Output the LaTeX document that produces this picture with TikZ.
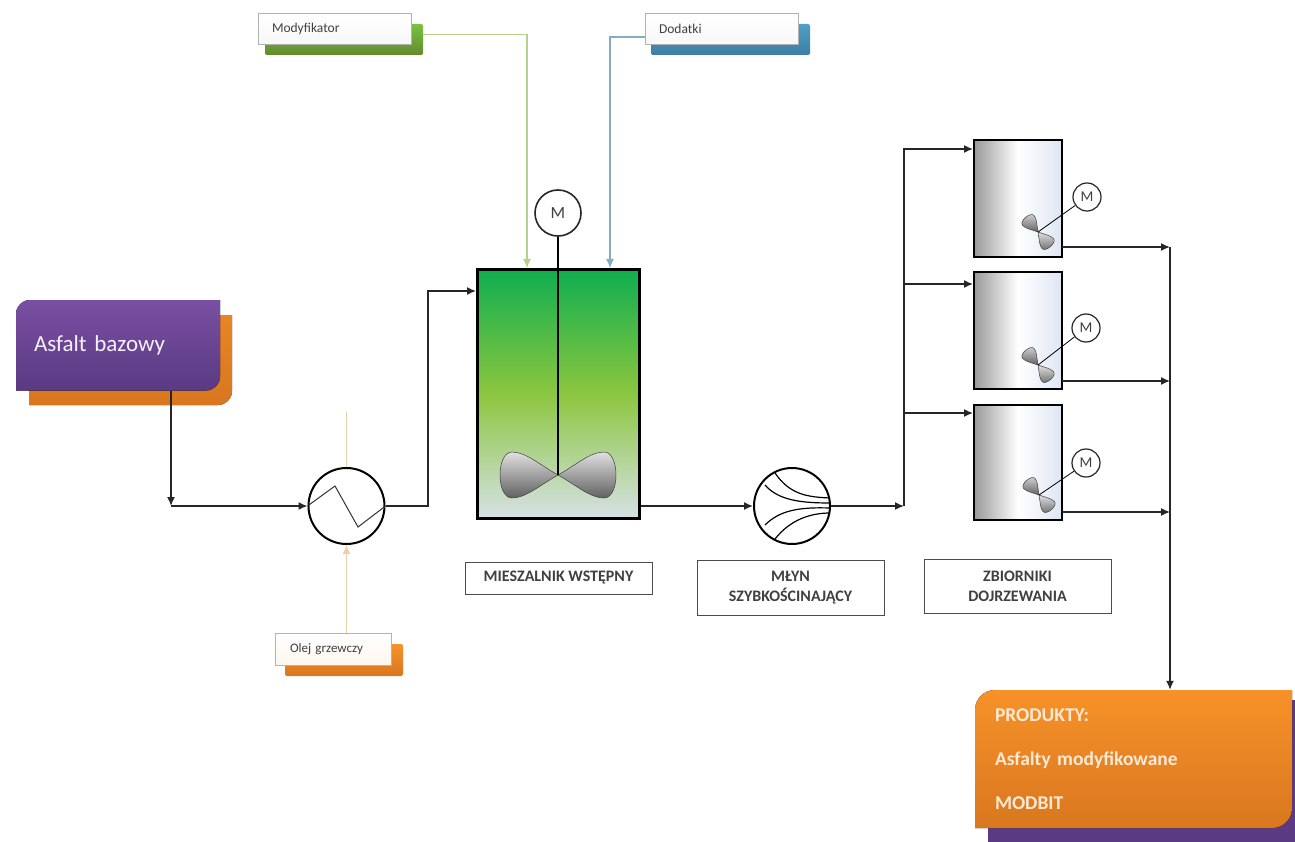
\documentclass[tikz,border=0pt]{standalone}
\usepackage{fontspec}
\setmainfont{Carlito}
\usetikzlibrary{arrows.meta}
\definecolor{zielen}{HTML}{0FAE4F}
\definecolor{trawa}{HTML}{8CC63F}
\definecolor{mgla}{HTML}{D6E1E6}
\definecolor{fiolet}{HTML}{7A4FA3}
\definecolor{sliwka}{HTML}{5A3A82}
\definecolor{pomarancz}{HTML}{F79229}
\definecolor{rdza}{HTML}{D9771F}
\definecolor{linia1}{HTML}{B4D28C}
\definecolor{linia2}{HTML}{7FAFC0}
\definecolor{linia3}{HTML}{EBCFA8}
\definecolor{stal}{HTML}{DFE6F2}
\definecolor{morze}{HTML}{4F9FC6}
\definecolor{morze2}{HTML}{3C7FA3}

\begin{document}
\begin{tikzpicture}[
  x=1pt, y=-1pt,
  >={Latex[length=9pt, width=8pt]},
  rura/.style = {line width=1.5pt, draw=black!85},
  cienka/.style = {line width=1.2pt},
  etykieta/.style = {draw=black!70, line width=.9pt, align=center, font=\fontsize{16}{20}\selectfont\bfseries, text=black!75, inner sep=0pt},
  tabliczka/.style = {draw=black!30, line width=.8pt, top color=white, bottom color=black!3, minimum height=31pt, inner sep=0pt, font=\fontsize{13.5}{15}\selectfont, text=black!75, align=left},
  tlo/.style = {minimum height=31pt, inner sep=0pt, rounded corners=2pt},
  silnik/.style = {circle, draw=black!85, fill=white, line width=1.2pt, inner sep=0pt, font=\fontsize{15}{17}\selectfont, text=black!75},
  aparat/.style = {circle, draw=black, fill=white, line width=2pt, minimum size=76pt, inner sep=0pt},
  zbiornik/.style = {draw=black, line width=2.6pt, minimum width=88pt, inner sep=0pt, left color=black!40, right color=stal, middle color=white},
  smiglo/.pic = {
    \foreach \kier in {1,-1} {
      \draw[xscale=\kier, draw=black!75, line width=.5pt, top color=black!12, bottom color=black!62]
        (0,0) .. controls (18,-10) and (32,-23) .. (46,-23)
        .. controls (62,-23) and (62,23) .. (46,23)
        .. controls (32,23) and (18,10) .. (0,0);
    }
  }
]
  \useasboundingbox (0,0) rectangle (1295,842);

  % wejscia
  \node[tlo, minimum width=158pt, top color=trawa!85!zielen, bottom color=trawa!70!black] (modyfikatortlo) at (344,39.5) {};
  \node[tabliczka, minimum width=153pt, text width=125pt] (modyfikator) at (334.5,29) {Modyfikator};
  \node[tlo, minimum width=159pt, top color=morze, bottom color=morze2] (dodatkitlo) at (730.5,39.5) {};
  \node[tabliczka, minimum width=153pt, text width=125pt] (dodatki) at (721.5,29) {Dodatki};

  \fill[top color=rdza!50!pomarancz, bottom color=rdza] (232,315) [rounded corners=14pt] -- (232,405) [sharp corners] -- (29,405) -- (29,315) -- cycle;
  \fill[top color=fiolet, bottom color=sliwka] (220,300) [rounded corners=14pt] -- (16,300) [sharp corners] -- (16,390.5) [rounded corners=14pt] -- (220,390.5) [sharp corners] -- cycle;
  \node[minimum width=204pt, minimum height=90.5pt, inner sep=0pt, text width=168pt, text=white!92!fiolet, font=\fontsize{23}{26}\selectfont] (asfalt) at (118,345.5) {Asfalt bazowy};

  \node[tlo, minimum width=118pt, minimum height=32pt, top color=pomarancz, bottom color=rdza] (olejtlo) at (344,660) {};
  \node[tabliczka, minimum width=116pt, minimum height=32pt, text width=86pt, top color=white, bottom color=pomarancz!8, font=\fontsize{13}{15}\selectfont] (olej) at (333,649) {Olej grzewczy};

  % aparaty
  \node[aparat] (wymiennik) at (346.5,506) {};
  \draw[line width=1pt, draw=black!80] (wymiennik.west) -- (335,486) -- (358,527) -- (wymiennik.east);

  \node[draw=black, line width=3pt, minimum width=162pt, minimum height=249pt, inner sep=0pt, top color=zielen, bottom color=mgla, middle color=trawa] (mieszalnik) at (558.5,394) {};
  \coordinate (piasta) at (558,475);
  \pic at (piasta) {smiglo};
  \node[silnik, line width=1.6pt, minimum size=46pt, font=\fontsize{17}{19}\selectfont] (silnik0) at (558,213) {M};
  \draw[line width=1.7pt] (silnik0.south) -- (piasta);

  \node[aparat] (mlyn) at (792,506) {};
  \draw[line width=1.2pt]
    (775,473) .. controls (790,495) and (808,497) .. (830,498)
    (765,485) .. controls (778,500) and (800,503) .. (830,503)
    (765,525) .. controls (780,510) and (800,507) .. (830,508)
    (775,539) .. controls (790,520) and (810,513) .. (830,513);

  \node[zbiornik, minimum height=117pt] (zbiornik1) at (1018,198.5) {};
  \node[zbiornik, minimum height=117pt] (zbiornik2) at (1018,330.5) {};
  \node[zbiornik, minimum height=115pt] (zbiornik3) at (1018,462.5) {};
  \coordinate (os1) at (1038,232);
  \coordinate (os2) at (1038,365);
  \coordinate (os3) at (1039,495);
  \pic[scale=.33, rotate=-50] at (os1) {smiglo};
  \pic[scale=.33, rotate=-50] at (os2) {smiglo};
  \pic[scale=.33, rotate=-50] at (os3) {smiglo};
  \node[silnik, minimum size=28pt] (silnik1) at (1087,197) {M};
  \node[silnik, minimum size=28pt] (silnik2) at (1086,328) {M};
  \node[silnik, minimum size=28pt] (silnik3) at (1086,463) {M};
  \draw[line width=.8pt] (silnik1) -- (os1);
  \draw[line width=.8pt] (silnik2) -- (os2);
  \draw[line width=.8pt] (silnik3) -- (os3);

  % produkty
  \fill[sliwka] (988,700) rectangle (1295,842);
  \fill[top color=pomarancz, bottom color=rdza] (1292,690) [rounded corners=20pt] -- (975,690) [sharp corners] -- (975,828) [rounded corners=20pt] -- (1292,828) [sharp corners] -- cycle;
  \node[minimum width=317pt, minimum height=138pt, inner sep=0pt, text width=277pt, align=left, font=\fontsize{19.5}{44}\selectfont\bfseries, text=white!80!pomarancz] (produkty) at (1133.5,759) {PRODUKTY:\\Asfalty modyfikowane\\MODBIT};

  % podpisy
  \node[etykieta, minimum width=187pt, minimum height=32pt] (podpis1) at (558.5,578) {MIESZALNIK WSTĘPNY};
  \node[etykieta, minimum width=187pt, minimum height=55pt] (podpis2) at (790.5,587.5) {MŁYN\\SZYBKOŚCINAJĄCY};
  \node[etykieta, minimum width=187pt, minimum height=54pt] (podpis3) at (1017.5,586) {ZBIORNIKI\\DOJRZEWANIA};

  % polaczenia
  \coordinate (wsyp1) at (527,268);
  \coordinate (wsyp2) at (610,268);
  \coordinate (odplyw) at (346.5,412);
  \coordinate (w1) at (171,506);
  \coordinate (w2) at (428,291);
  \coordinate (w4) at (904,506);
  \coordinate (wlot1) at (973,149);
  \coordinate (wlot2) at (973,284);
  \coordinate (wlot3) at (973,413);
  \coordinate (wylot1) at (1062,247);
  \coordinate (wylot2) at (1062,381);
  \coordinate (wylot3) at (1062,512);
  \coordinate (w5) at (1170,247);

  \draw[cienka, draw=linia1, ->] ([shift={(0,-5)}]modyfikatortlo.east) -| (wsyp1);
  \draw[cienka, draw=linia2, ->] ([shift={(0,8)}]dodatki.west) -| (wsyp2);
  \draw[cienka, draw=linia3] (wymiennik.north) -- (odplyw);
  \draw[cienka, draw=linia3, ->] (olej.north -| wymiennik.south) -- (wymiennik.south);

  \draw[rura, ->] (asfalt.south -| w1) -- (w1);
  \draw[rura, ->] (w1) -- (wymiennik.west);
  \draw[rura, ->] (wymiennik.east) -| (w2) -- (w2 -| mieszalnik.west);
  \draw[rura, ->] (mlyn.west -| mieszalnik.east) -- (mlyn.west);
  \draw[rura, ->] (mlyn.east) -- (w4);
  \draw[rura, ->] (w4) |- (wlot1);
  \draw[rura, ->] (wlot2 -| w4) -- (wlot2);
  \draw[rura, ->] (wlot3 -| w4) -- (wlot3);
  \draw[rura, ->] (wylot1) -- (w5);
  \draw[rura, ->] (wylot2) -- (wylot2 -| w5);
  \draw[rura, ->] (wylot3) -- (wylot3 -| w5);
  \draw[rura, ->] (w5) -- (produkty.north -| w5);
\end{tikzpicture}
\end{document}
